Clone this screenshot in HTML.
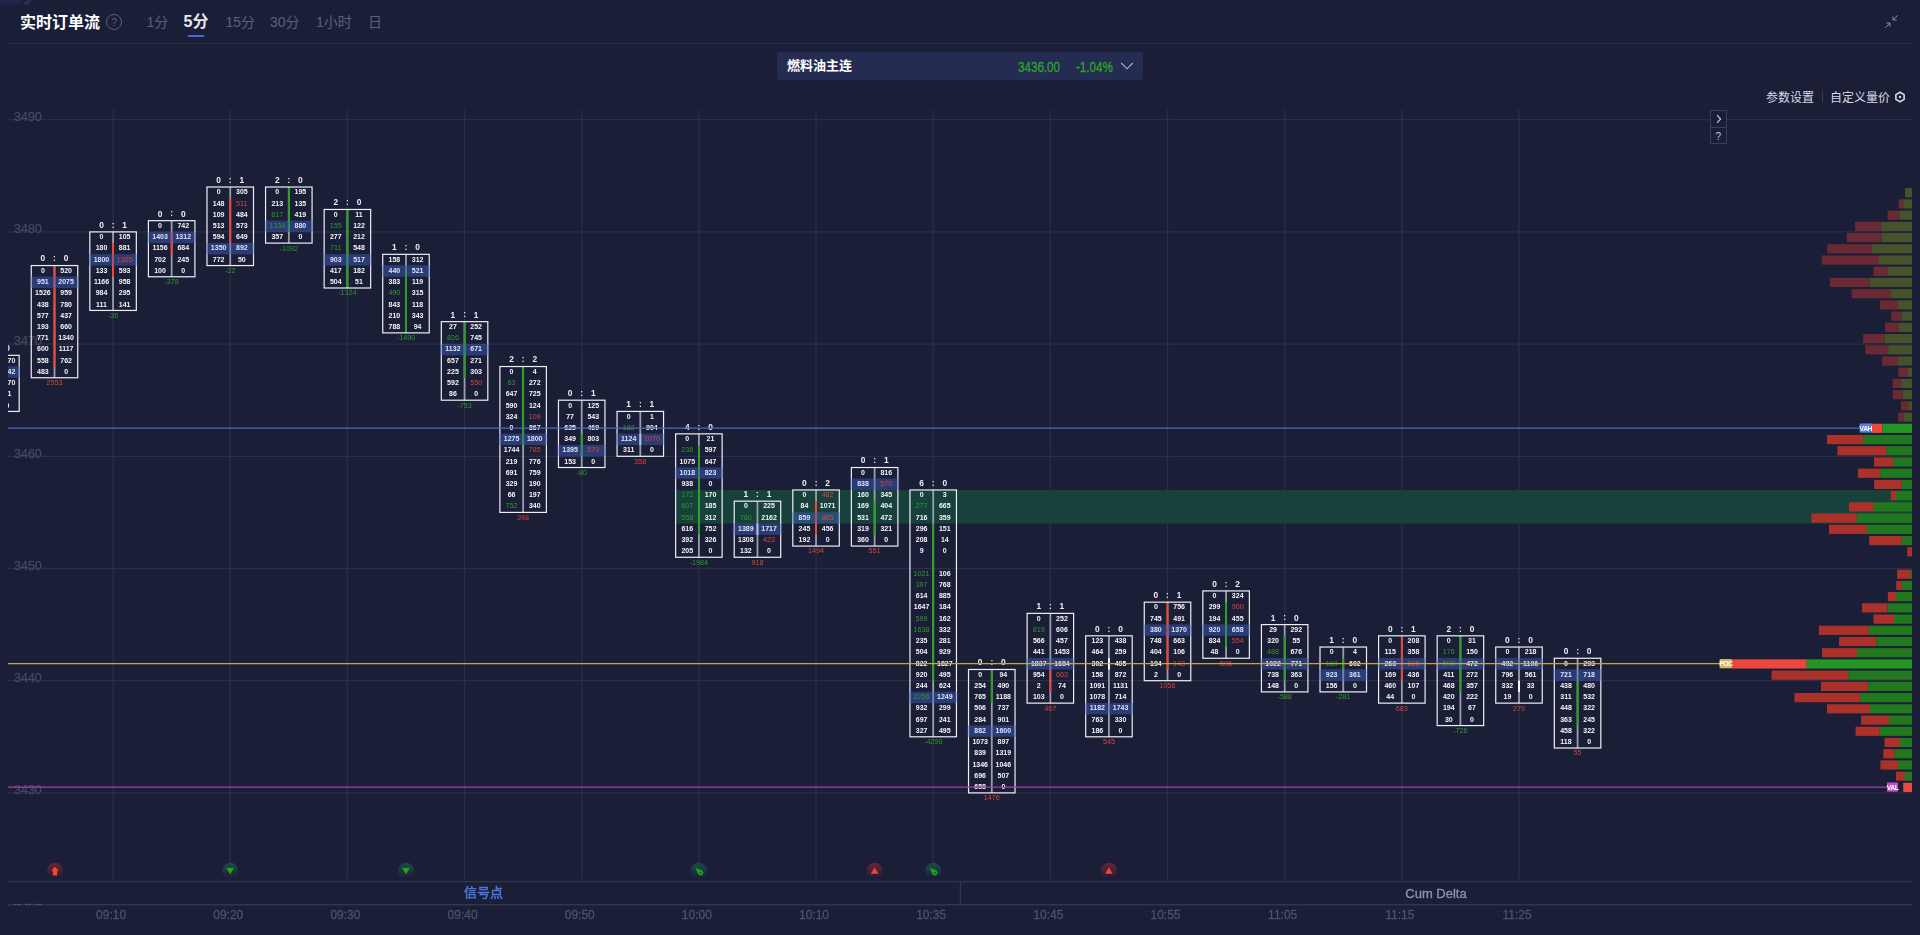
<!DOCTYPE html>
<html lang="zh-CN">
<head>
<meta charset="utf-8">
<title>实时订单流</title>
<style>
html,body{margin:0;padding:0;background:#1b1e37;}
body{width:1920px;height:935px;overflow:hidden;position:relative;font-family:"Liberation Sans","Noto Sans CJK SC",sans-serif;color:#fff;}
.abs{position:absolute;white-space:nowrap;}
.title{left:20px;top:11px;height:24px;line-height:24px;font-size:16px;font-weight:bold;color:#fff;}
.help{left:106.2px;top:14.3px;width:14px;height:14px;border:1px solid #5a5e72;border-radius:50%;color:#5a5e72;font-size:10.5px;line-height:14px;text-align:center;}
.tab{top:11px;height:22px;line-height:22px;font-size:14px;color:#5d6176;}
.tab.on{font-size:16px;font-weight:bold;color:#e6e7ee;top:11px;}
.uline{left:188px;top:35.2px;width:16px;height:2px;background:#3f6cd8;}
.hline{left:8px;top:42.6px;width:1904px;height:1.2px;background:#272c44;}
.sel{left:777px;top:52px;width:366px;height:28px;background:#242c52;border-radius:2px;}
.sel .nm{left:10px;top:0;line-height:27px;font-size:13px;font-weight:bold;color:#fff;}
.sel .px{top:1px;line-height:28px;font-size:14px;color:#2ea32a;transform-origin:0 50%;transform:scaleX(0.83);-webkit-text-stroke:0.3px #2ea32a;}
.set{top:88.8px;line-height:18px;font-size:12px;color:#d9dae2;}
.btn{left:1710px;width:14.8px;height:15.2px;border:1px solid #3a3f58;color:#c6c8d2;font-size:11px;line-height:16px;text-align:center;background:#1b1e37;}
svg{position:absolute;left:0;top:0;}
#chart{will-change:transform;}
svg text{font-family:"Liberation Sans",sans-serif;}
.t{font-size:7px;font-weight:bold;fill:#f4f5f8;text-anchor:middle;}
.t.h{fill:#dbe4ff;font-weight:bold;}
.t.c{font-weight:normal;font-size:7.2px;}
.hd{font-size:8.4px;font-weight:bold;fill:#eceef3;text-anchor:middle;}
.dl{font-size:7.2px;text-anchor:middle;}
.cg{fill:#2f9a2c;}
.cr{fill:#d8453c;}
.tag{font-size:6.8px;font-weight:bold;fill:#fff;text-anchor:middle;letter-spacing:-0.5px;}
</style>
</head>
<body>
<svg width="34" height="6" viewBox="0 0 34 6"><polygon points="0,0 23.8,0 19,4.7 0,4.7" fill="#20264a"/><polygon points="27.5,0 31.6,0 27.2,4.9 22,4.9" fill="#27305a"/></svg>
<div class="abs title">实时订单流</div>
<div class="abs help">?</div>
<div class="abs tab" style="left:146.5px">1分</div>
<div class="abs tab on" style="left:183.6px">5分</div>
<div class="abs tab" style="left:225.5px">15分</div>
<div class="abs tab" style="left:270px">30分</div>
<div class="abs tab" style="left:316px">1小时</div>
<div class="abs tab" style="left:368px">日</div>
<div class="abs uline"></div>
<div class="abs hline"></div>
<div class="abs sel">
  <div class="abs nm">燃料油主连</div>
  <div class="abs px" style="left:241px">3436.00</div>
  <div class="abs px" style="left:298.5px">-1.04%</div>
  <svg style="left:343px;top:8px" width="14" height="12" viewBox="0 0 14 12"><path d="M1.2 3 L7 8.8 L12.8 3" fill="none" stroke="#aeb2c4" stroke-width="1.1"/></svg>
</div>
<svg style="left:1884px;top:14px" width="16" height="16" viewBox="0 0 16 16"><g fill="none" stroke="#8a8d9c" stroke-width="1"><path d="M13.8 1.2 L9 6 M9 2.4 V6 H12.6"/><path d="M1.2 13.8 L6 9 M2.4 9 H6 V12.6"/></g></svg>
<div class="abs set" style="left:1766px">参数设置</div>
<div class="abs" style="left:1822px;top:91px;width:1px;height:11px;background:#3a3f58"></div>
<div class="abs set" style="left:1830px">自定义量价</div>
<svg style="left:1893px;top:90px" width="14" height="14" viewBox="0 0 14 14"><path d="M7 2.2 L11.1 4.6 V9.4 L7 11.8 L2.9 9.4 V4.6 Z" fill="none" stroke="#d9dae2" stroke-width="1.6"/><circle cx="7" cy="7" r="1.2" fill="#d9dae2"/></svg>
<svg id="chart" width="1920" height="935" viewBox="0 0 1920 935">
<defs>
<clipPath id="plot"><rect x="8" y="100" width="1904" height="800"/></clipPath>
<linearGradient id="gr" x1="0" y1="0" x2="0" y2="1"><stop offset="0" stop-color="#672533"/><stop offset="0.5" stop-color="#472136"/><stop offset="0.9" stop-color="#211e37"/><stop offset="1" stop-color="#1b1e37"/></linearGradient>
<linearGradient id="gg" x1="0" y1="0" x2="0" y2="1"><stop offset="0" stop-color="#1a4c42"/><stop offset="0.5" stop-color="#1b383d"/><stop offset="0.9" stop-color="#1b2238"/><stop offset="1" stop-color="#1b1e37"/></linearGradient>
</defs>
<g stroke="#2a2f47" stroke-width="1.3" fill="none">
<line x1="8" x2="1912" y1="119.7" y2="119.7"/>
<line x1="8" x2="1912" y1="231.9" y2="231.9"/>
<line x1="8" x2="1912" y1="344.1" y2="344.1"/>
<line x1="8" x2="1912" y1="456.3" y2="456.3"/>
<line x1="8" x2="1912" y1="568.5" y2="568.5"/>
<line x1="8" x2="1912" y1="680.7" y2="680.7"/>
<line x1="8" x2="1912" y1="792.9" y2="792.9"/>
<line x1="113.08" x2="113.08" y1="110" y2="879.6"/>
<line x1="230.24" x2="230.24" y1="110" y2="879.6"/>
<line x1="347.4" x2="347.4" y1="110" y2="879.6"/>
<line x1="464.56" x2="464.56" y1="110" y2="879.6"/>
<line x1="581.72" x2="581.72" y1="110" y2="879.6"/>
<line x1="698.88" x2="698.88" y1="110" y2="879.6"/>
<line x1="816.04" x2="816.04" y1="110" y2="879.6"/>
<line x1="933.2" x2="933.2" y1="110" y2="879.6"/>
<line x1="1050.36" x2="1050.36" y1="110" y2="879.6"/>
<line x1="1167.52" x2="1167.52" y1="110" y2="879.6"/>
<line x1="1284.68" x2="1284.68" y1="110" y2="879.6"/>
<line x1="1401.84" x2="1401.84" y1="110" y2="879.6"/>
<line x1="1519" x2="1519" y1="110" y2="879.6"/>
</g>
<g font-size="12.5" fill="#454a60" stroke="#454a60" stroke-width="0.25" font-family="'Liberation Sans', sans-serif">
<text x="14" y="121">3490</text>
<text x="14" y="233.2">3480</text>
<text x="14" y="345.4">3470</text>
<text x="14" y="457.6">3460</text>
<text x="14" y="569.8">3450</text>
<text x="14" y="682">3440</text>
<text x="14" y="794.2">3430</text>
</g>
<rect x="675.63" y="489.96" width="1236.37" height="33.66" fill="#17413a"/>
<g clip-path="url(#plot)">
<rect x="-4.98" y="355.32" width="1.8" height="56.1" fill="#9a9eab"/>
<rect x="-27.33" y="355.32" width="46.5" height="56.1" fill="none" stroke="#eeeff4" stroke-width="1.2"/>
<text x="-15.68" y="362.63" class="t">312</text>
<text x="7.52" y="362.63" class="t">1270</text>
<rect x="-28.13" y="366.34" width="48.1" height="11.42" fill="#4264c8" fill-opacity="0.42"/>
<text x="-15.68" y="373.85" class="t h">1105</text>
<text x="7.52" y="373.85" class="t h">1342</text>
<text x="-15.68" y="385.07" class="t">640</text>
<text x="7.52" y="385.07" class="t">1070</text>
<text x="-15.68" y="396.29" class="t">88</text>
<text x="7.52" y="396.29" class="t">31</text>
<text x="-15.68" y="407.51" class="t">15</text>
<text x="7.52" y="407.51" class="t">0</text>
<text x="-15.68" y="351.22" class="hd">1</text><text x="-4.08" y="351.02" class="hd">:</text><text x="7.52" y="351.22" class="hd">0</text>
<rect x="53.6" y="265.56" width="1.8" height="112.2" fill="#9a9eab"/>
<rect x="53.55" y="265.56" width="1.9" height="100.98" fill="#f4452f"/>
<rect x="31.25" y="265.56" width="46.5" height="112.2" fill="none" stroke="#eeeff4" stroke-width="1.2"/>
<text x="42.9" y="272.87" class="t">0</text>
<text x="66.1" y="272.87" class="t">520</text>
<rect x="30.45" y="276.58" width="48.1" height="11.42" fill="#4264c8" fill-opacity="0.42"/>
<text x="42.9" y="284.09" class="t h">951</text>
<text x="66.1" y="284.09" class="t h">2075</text>
<text x="42.9" y="295.31" class="t">1526</text>
<text x="66.1" y="295.31" class="t">959</text>
<text x="42.9" y="306.53" class="t">438</text>
<text x="66.1" y="306.53" class="t">780</text>
<text x="42.9" y="317.75" class="t">577</text>
<text x="66.1" y="317.75" class="t">437</text>
<text x="42.9" y="328.97" class="t">193</text>
<text x="66.1" y="328.97" class="t">660</text>
<text x="42.9" y="340.19" class="t">771</text>
<text x="66.1" y="340.19" class="t">1340</text>
<text x="42.9" y="351.41" class="t">600</text>
<text x="66.1" y="351.41" class="t">1117</text>
<text x="42.9" y="362.63" class="t">558</text>
<text x="66.1" y="362.63" class="t">762</text>
<text x="42.9" y="373.85" class="t">483</text>
<text x="66.1" y="373.85" class="t">0</text>
<text x="42.9" y="261.46" class="hd">0</text><text x="54.5" y="261.26" class="hd">:</text><text x="66.1" y="261.46" class="hd">0</text>
<text x="54.5" y="385.16" class="dl cr">2553</text>
<rect x="112.18" y="231.9" width="1.8" height="78.54" fill="#9a9eab"/>
<rect x="112.13" y="243.12" width="1.9" height="33.66" fill="#f4452f"/>
<rect x="89.83" y="231.9" width="46.5" height="78.54" fill="none" stroke="#eeeff4" stroke-width="1.2"/>
<text x="101.48" y="239.21" class="t">0</text>
<text x="124.68" y="239.21" class="t">105</text>
<text x="101.48" y="250.43" class="t">180</text>
<text x="124.68" y="250.43" class="t">881</text>
<rect x="89.03" y="254.14" width="48.1" height="11.42" fill="#4264c8" fill-opacity="0.42"/>
<text x="101.48" y="261.65" class="t h">1800</text>
<text x="124.68" y="261.65" class="t c cr">1365</text>
<text x="101.48" y="272.87" class="t">133</text>
<text x="124.68" y="272.87" class="t">593</text>
<text x="101.48" y="284.09" class="t">1166</text>
<text x="124.68" y="284.09" class="t">958</text>
<text x="101.48" y="295.31" class="t">984</text>
<text x="124.68" y="295.31" class="t">295</text>
<text x="101.48" y="306.53" class="t">111</text>
<text x="124.68" y="306.53" class="t">141</text>
<text x="101.48" y="227.8" class="hd">0</text><text x="113.08" y="227.6" class="hd">:</text><text x="124.68" y="227.8" class="hd">1</text>
<text x="113.08" y="317.84" class="dl cg">-36</text>
<rect x="170.76" y="220.68" width="1.8" height="56.1" fill="#9a9eab"/>
<rect x="170.71" y="231.9" width="1.9" height="22.44" fill="#f4452f"/>
<rect x="148.41" y="220.68" width="46.5" height="56.1" fill="none" stroke="#eeeff4" stroke-width="1.2"/>
<text x="160.06" y="227.99" class="t">0</text>
<text x="183.26" y="227.99" class="t">742</text>
<rect x="147.61" y="231.7" width="48.1" height="11.42" fill="#4264c8" fill-opacity="0.42"/>
<text x="160.06" y="239.21" class="t h">1403</text>
<text x="183.26" y="239.21" class="t h">1312</text>
<text x="160.06" y="250.43" class="t">1156</text>
<text x="183.26" y="250.43" class="t">684</text>
<text x="160.06" y="261.65" class="t">702</text>
<text x="183.26" y="261.65" class="t">245</text>
<text x="160.06" y="272.87" class="t">100</text>
<text x="183.26" y="272.87" class="t">0</text>
<text x="160.06" y="216.58" class="hd">0</text><text x="171.66" y="216.38" class="hd">:</text><text x="183.26" y="216.58" class="hd">0</text>
<text x="171.66" y="284.18" class="dl cg">-378</text>
<rect x="229.34" y="187.02" width="1.8" height="78.54" fill="#9a9eab"/>
<rect x="229.29" y="198.24" width="1.9" height="44.88" fill="#f4452f"/>
<rect x="206.99" y="187.02" width="46.5" height="78.54" fill="none" stroke="#eeeff4" stroke-width="1.2"/>
<text x="218.64" y="194.33" class="t">0</text>
<text x="241.84" y="194.33" class="t">305</text>
<text x="218.64" y="205.55" class="t">148</text>
<text x="241.84" y="205.55" class="t c cr">511</text>
<text x="218.64" y="216.77" class="t">109</text>
<text x="241.84" y="216.77" class="t">484</text>
<text x="218.64" y="227.99" class="t">513</text>
<text x="241.84" y="227.99" class="t">573</text>
<text x="218.64" y="239.21" class="t">594</text>
<text x="241.84" y="239.21" class="t">649</text>
<rect x="206.19" y="242.92" width="48.1" height="11.42" fill="#4264c8" fill-opacity="0.42"/>
<text x="218.64" y="250.43" class="t h">1350</text>
<text x="241.84" y="250.43" class="t h">892</text>
<text x="218.64" y="261.65" class="t">772</text>
<text x="241.84" y="261.65" class="t">50</text>
<text x="218.64" y="182.92" class="hd">0</text><text x="230.24" y="182.72" class="hd">:</text><text x="241.84" y="182.92" class="hd">1</text>
<text x="230.24" y="272.96" class="dl cg">-22</text>
<rect x="287.92" y="187.02" width="1.8" height="56.1" fill="#9a9eab"/>
<rect x="287.87" y="187.02" width="1.9" height="44.88" fill="#27a31f"/>
<rect x="265.57" y="187.02" width="46.5" height="56.1" fill="none" stroke="#eeeff4" stroke-width="1.2"/>
<text x="277.22" y="194.33" class="t">0</text>
<text x="300.42" y="194.33" class="t">195</text>
<text x="277.22" y="205.55" class="t">213</text>
<text x="300.42" y="205.55" class="t">135</text>
<text x="277.22" y="216.77" class="t c cg">817</text>
<text x="300.42" y="216.77" class="t">419</text>
<rect x="264.77" y="220.48" width="48.1" height="11.42" fill="#4264c8" fill-opacity="0.42"/>
<text x="277.22" y="227.99" class="t c cg">1334</text>
<text x="300.42" y="227.99" class="t h">880</text>
<text x="277.22" y="239.21" class="t">357</text>
<text x="300.42" y="239.21" class="t">0</text>
<text x="277.22" y="182.92" class="hd">2</text><text x="288.82" y="182.72" class="hd">:</text><text x="300.42" y="182.92" class="hd">0</text>
<text x="288.82" y="250.52" class="dl cg">-1092</text>
<rect x="346.5" y="209.46" width="1.8" height="78.54" fill="#9a9eab"/>
<rect x="346.45" y="209.46" width="1.9" height="78.54" fill="#27a31f"/>
<rect x="324.15" y="209.46" width="46.5" height="78.54" fill="none" stroke="#eeeff4" stroke-width="1.2"/>
<text x="335.8" y="216.77" class="t">0</text>
<text x="359" y="216.77" class="t">11</text>
<text x="335.8" y="227.99" class="t c cg">155</text>
<text x="359" y="227.99" class="t">122</text>
<text x="335.8" y="239.21" class="t">277</text>
<text x="359" y="239.21" class="t">212</text>
<text x="335.8" y="250.43" class="t c cg">711</text>
<text x="359" y="250.43" class="t">548</text>
<rect x="323.35" y="254.14" width="48.1" height="11.42" fill="#4264c8" fill-opacity="0.42"/>
<text x="335.8" y="261.65" class="t h">903</text>
<text x="359" y="261.65" class="t h">517</text>
<text x="335.8" y="272.87" class="t">417</text>
<text x="359" y="272.87" class="t">182</text>
<text x="335.8" y="284.09" class="t">504</text>
<text x="359" y="284.09" class="t">51</text>
<text x="335.8" y="205.36" class="hd">2</text><text x="347.4" y="205.16" class="hd">:</text><text x="359" y="205.36" class="hd">0</text>
<text x="347.4" y="295.4" class="dl cg">-1324</text>
<rect x="405.08" y="254.34" width="1.8" height="78.54" fill="#9a9eab"/>
<rect x="405.03" y="265.56" width="1.9" height="67.32" fill="#27a31f"/>
<rect x="382.73" y="254.34" width="46.5" height="78.54" fill="none" stroke="#eeeff4" stroke-width="1.2"/>
<text x="394.38" y="261.65" class="t">158</text>
<text x="417.58" y="261.65" class="t">312</text>
<rect x="381.93" y="265.36" width="48.1" height="11.42" fill="#4264c8" fill-opacity="0.42"/>
<text x="394.38" y="272.87" class="t h">440</text>
<text x="417.58" y="272.87" class="t h">521</text>
<text x="394.38" y="284.09" class="t">383</text>
<text x="417.58" y="284.09" class="t">119</text>
<text x="394.38" y="295.31" class="t c cg">490</text>
<text x="417.58" y="295.31" class="t">315</text>
<text x="394.38" y="306.53" class="t">843</text>
<text x="417.58" y="306.53" class="t">118</text>
<text x="394.38" y="317.75" class="t">210</text>
<text x="417.58" y="317.75" class="t">343</text>
<text x="394.38" y="328.97" class="t">788</text>
<text x="417.58" y="328.97" class="t">94</text>
<text x="394.38" y="250.24" class="hd">1</text><text x="405.98" y="250.04" class="hd">:</text><text x="417.58" y="250.24" class="hd">0</text>
<text x="405.98" y="340.28" class="dl cg">-1490</text>
<rect x="463.66" y="321.66" width="1.8" height="78.54" fill="#9a9eab"/>
<rect x="463.61" y="321.66" width="1.9" height="56.1" fill="#27a31f"/>
<rect x="441.31" y="321.66" width="46.5" height="78.54" fill="none" stroke="#eeeff4" stroke-width="1.2"/>
<text x="452.96" y="328.97" class="t">27</text>
<text x="476.16" y="328.97" class="t">252</text>
<text x="452.96" y="340.19" class="t c cg">826</text>
<text x="476.16" y="340.19" class="t">745</text>
<rect x="440.51" y="343.9" width="48.1" height="11.42" fill="#4264c8" fill-opacity="0.42"/>
<text x="452.96" y="351.41" class="t h">1132</text>
<text x="476.16" y="351.41" class="t h">671</text>
<text x="452.96" y="362.63" class="t">657</text>
<text x="476.16" y="362.63" class="t">271</text>
<text x="452.96" y="373.85" class="t">225</text>
<text x="476.16" y="373.85" class="t">303</text>
<text x="452.96" y="385.07" class="t">592</text>
<text x="476.16" y="385.07" class="t c cr">550</text>
<text x="452.96" y="396.29" class="t">86</text>
<text x="476.16" y="396.29" class="t">0</text>
<text x="452.96" y="317.56" class="hd">1</text><text x="464.56" y="317.36" class="hd">:</text><text x="476.16" y="317.56" class="hd">1</text>
<text x="464.56" y="407.6" class="dl cg">-753</text>
<rect x="522.24" y="366.54" width="1.8" height="145.86" fill="#9a9eab"/>
<rect x="522.19" y="366.54" width="1.9" height="78.54" fill="#27a31f"/>
<rect x="499.89" y="366.54" width="46.5" height="145.86" fill="none" stroke="#eeeff4" stroke-width="1.2"/>
<text x="511.54" y="373.85" class="t">0</text>
<text x="534.74" y="373.85" class="t">4</text>
<text x="511.54" y="385.07" class="t c cg">63</text>
<text x="534.74" y="385.07" class="t">272</text>
<text x="511.54" y="396.29" class="t">647</text>
<text x="534.74" y="396.29" class="t">725</text>
<text x="511.54" y="407.51" class="t">590</text>
<text x="534.74" y="407.51" class="t">124</text>
<text x="511.54" y="418.73" class="t">324</text>
<text x="534.74" y="418.73" class="t c cr">109</text>
<text x="511.54" y="429.95" class="t">0</text>
<text x="534.74" y="429.95" class="t">867</text>
<rect x="499.09" y="433.66" width="48.1" height="11.42" fill="#4264c8" fill-opacity="0.42"/>
<text x="511.54" y="441.17" class="t h">1275</text>
<text x="534.74" y="441.17" class="t h">1800</text>
<text x="511.54" y="452.39" class="t">1744</text>
<text x="534.74" y="452.39" class="t c cr">785</text>
<text x="511.54" y="463.61" class="t">219</text>
<text x="534.74" y="463.61" class="t">776</text>
<text x="511.54" y="474.83" class="t">691</text>
<text x="534.74" y="474.83" class="t">759</text>
<text x="511.54" y="486.05" class="t">329</text>
<text x="534.74" y="486.05" class="t">190</text>
<text x="511.54" y="497.27" class="t">66</text>
<text x="534.74" y="497.27" class="t">197</text>
<text x="511.54" y="508.49" class="t c cg">752</text>
<text x="534.74" y="508.49" class="t">340</text>
<text x="511.54" y="362.44" class="hd">2</text><text x="523.14" y="362.24" class="hd">:</text><text x="534.74" y="362.44" class="hd">2</text>
<text x="523.14" y="519.8" class="dl cr">248</text>
<rect x="580.82" y="400.2" width="1.8" height="67.32" fill="#9a9eab"/>
<rect x="580.77" y="433.86" width="1.9" height="22.44" fill="#27a31f"/>
<rect x="558.47" y="400.2" width="46.5" height="67.32" fill="none" stroke="#eeeff4" stroke-width="1.2"/>
<text x="570.12" y="407.51" class="t">0</text>
<text x="593.32" y="407.51" class="t">125</text>
<text x="570.12" y="418.73" class="t">77</text>
<text x="593.32" y="418.73" class="t">543</text>
<text x="570.12" y="429.95" class="t">625</text>
<text x="593.32" y="429.95" class="t">469</text>
<text x="570.12" y="441.17" class="t">349</text>
<text x="593.32" y="441.17" class="t">803</text>
<rect x="557.67" y="444.88" width="48.1" height="11.42" fill="#4264c8" fill-opacity="0.42"/>
<text x="570.12" y="452.39" class="t h">1395</text>
<text x="593.32" y="452.39" class="t c cr">579</text>
<text x="570.12" y="463.61" class="t">153</text>
<text x="593.32" y="463.61" class="t">0</text>
<text x="570.12" y="396.1" class="hd">0</text><text x="581.72" y="395.9" class="hd">:</text><text x="593.32" y="396.1" class="hd">1</text>
<text x="581.72" y="474.92" class="dl cg">-80</text>
<rect x="639.4" y="411.42" width="1.8" height="44.88" fill="#9a9eab"/>
<rect x="639.35" y="433.86" width="1.9" height="11.22" fill="#ffffff"/>
<rect x="617.05" y="411.42" width="46.5" height="44.88" fill="none" stroke="#eeeff4" stroke-width="1.2"/>
<text x="628.7" y="418.73" class="t">0</text>
<text x="651.9" y="418.73" class="t">1</text>
<text x="628.7" y="429.95" class="t c cg">182</text>
<text x="651.9" y="429.95" class="t">904</text>
<rect x="616.25" y="433.66" width="48.1" height="11.42" fill="#4264c8" fill-opacity="0.42"/>
<text x="628.7" y="441.17" class="t h">1124</text>
<text x="651.9" y="441.17" class="t c cr">1070</text>
<text x="628.7" y="452.39" class="t">311</text>
<text x="651.9" y="452.39" class="t">0</text>
<text x="628.7" y="407.32" class="hd">1</text><text x="640.3" y="407.12" class="hd">:</text><text x="651.9" y="407.32" class="hd">1</text>
<text x="640.3" y="463.7" class="dl cr">358</text>
<rect x="697.98" y="433.86" width="1.8" height="123.42" fill="#9a9eab"/>
<rect x="697.93" y="445.08" width="1.9" height="89.76" fill="#27a31f"/>
<rect x="675.63" y="433.86" width="46.5" height="123.42" fill="none" stroke="#eeeff4" stroke-width="1.2"/>
<text x="687.28" y="441.17" class="t">0</text>
<text x="710.48" y="441.17" class="t">21</text>
<text x="687.28" y="452.39" class="t c cg">236</text>
<text x="710.48" y="452.39" class="t">597</text>
<text x="687.28" y="463.61" class="t">1075</text>
<text x="710.48" y="463.61" class="t">647</text>
<rect x="674.83" y="467.32" width="48.1" height="11.42" fill="#4264c8" fill-opacity="0.42"/>
<text x="687.28" y="474.83" class="t h">1018</text>
<text x="710.48" y="474.83" class="t h">823</text>
<text x="687.28" y="486.05" class="t">938</text>
<text x="710.48" y="486.05" class="t">0</text>
<text x="687.28" y="497.27" class="t c cg">172</text>
<text x="710.48" y="497.27" class="t">170</text>
<text x="687.28" y="508.49" class="t c cg">607</text>
<text x="710.48" y="508.49" class="t">185</text>
<text x="687.28" y="519.71" class="t c cg">558</text>
<text x="710.48" y="519.71" class="t">312</text>
<text x="687.28" y="530.93" class="t">616</text>
<text x="710.48" y="530.93" class="t">752</text>
<text x="687.28" y="542.15" class="t">392</text>
<text x="710.48" y="542.15" class="t">326</text>
<text x="687.28" y="553.37" class="t">205</text>
<text x="710.48" y="553.37" class="t">0</text>
<text x="687.28" y="429.76" class="hd">4</text><text x="698.88" y="429.56" class="hd">:</text><text x="710.48" y="429.76" class="hd">0</text>
<text x="698.88" y="564.68" class="dl cg">-1984</text>
<rect x="756.56" y="501.18" width="1.8" height="56.1" fill="#9a9eab"/>
<rect x="756.51" y="523.62" width="1.9" height="11.22" fill="#ffffff"/>
<rect x="734.21" y="501.18" width="46.5" height="56.1" fill="none" stroke="#eeeff4" stroke-width="1.2"/>
<text x="745.86" y="508.49" class="t">0</text>
<text x="769.06" y="508.49" class="t">225</text>
<text x="745.86" y="519.71" class="t c cg">780</text>
<text x="769.06" y="519.71" class="t">2162</text>
<rect x="733.41" y="523.42" width="48.1" height="11.42" fill="#4264c8" fill-opacity="0.42"/>
<text x="745.86" y="530.93" class="t h">1389</text>
<text x="769.06" y="530.93" class="t h">1717</text>
<text x="745.86" y="542.15" class="t">1308</text>
<text x="769.06" y="542.15" class="t c cr">423</text>
<text x="745.86" y="553.37" class="t">132</text>
<text x="769.06" y="553.37" class="t">0</text>
<text x="745.86" y="497.08" class="hd">1</text><text x="757.46" y="496.88" class="hd">:</text><text x="769.06" y="497.08" class="hd">1</text>
<text x="757.46" y="564.68" class="dl cr">918</text>
<rect x="815.14" y="489.96" width="1.8" height="56.1" fill="#9a9eab"/>
<rect x="815.09" y="501.18" width="1.9" height="33.66" fill="#f4452f"/>
<rect x="792.79" y="489.96" width="46.5" height="56.1" fill="none" stroke="#eeeff4" stroke-width="1.2"/>
<text x="804.44" y="497.27" class="t">0</text>
<text x="827.64" y="497.27" class="t c cr">482</text>
<text x="804.44" y="508.49" class="t">84</text>
<text x="827.64" y="508.49" class="t">1071</text>
<rect x="791.99" y="512.2" width="48.1" height="11.42" fill="#4264c8" fill-opacity="0.42"/>
<text x="804.44" y="519.71" class="t h">859</text>
<text x="827.64" y="519.71" class="t c cr">865</text>
<text x="804.44" y="530.93" class="t">245</text>
<text x="827.64" y="530.93" class="t">456</text>
<text x="804.44" y="542.15" class="t">192</text>
<text x="827.64" y="542.15" class="t">0</text>
<text x="804.44" y="485.86" class="hd">0</text><text x="816.04" y="485.66" class="hd">:</text><text x="827.64" y="485.86" class="hd">2</text>
<text x="816.04" y="553.46" class="dl cr">1494</text>
<rect x="873.72" y="467.52" width="1.8" height="78.54" fill="#9a9eab"/>
<rect x="873.67" y="501.18" width="1.9" height="33.66" fill="#27a31f"/>
<rect x="851.37" y="467.52" width="46.5" height="78.54" fill="none" stroke="#eeeff4" stroke-width="1.2"/>
<text x="863.02" y="474.83" class="t">0</text>
<text x="886.22" y="474.83" class="t">816</text>
<rect x="850.57" y="478.54" width="48.1" height="11.42" fill="#4264c8" fill-opacity="0.42"/>
<text x="863.02" y="486.05" class="t h">838</text>
<text x="886.22" y="486.05" class="t c cr">570</text>
<text x="863.02" y="497.27" class="t">160</text>
<text x="886.22" y="497.27" class="t">345</text>
<text x="863.02" y="508.49" class="t">169</text>
<text x="886.22" y="508.49" class="t">404</text>
<text x="863.02" y="519.71" class="t">531</text>
<text x="886.22" y="519.71" class="t">472</text>
<text x="863.02" y="530.93" class="t">319</text>
<text x="886.22" y="530.93" class="t">321</text>
<text x="863.02" y="542.15" class="t">360</text>
<text x="886.22" y="542.15" class="t">0</text>
<text x="863.02" y="463.42" class="hd">0</text><text x="874.62" y="463.22" class="hd">:</text><text x="886.22" y="463.42" class="hd">1</text>
<text x="874.62" y="553.46" class="dl cr">551</text>
<rect x="932.3" y="489.96" width="1.8" height="246.84" fill="#9a9eab"/>
<rect x="932.25" y="523.62" width="1.9" height="157.08" fill="#27a31f"/>
<rect x="909.95" y="489.96" width="46.5" height="246.84" fill="none" stroke="#eeeff4" stroke-width="1.2"/>
<text x="921.6" y="497.27" class="t">0</text>
<text x="944.8" y="497.27" class="t">3</text>
<text x="921.6" y="508.49" class="t c cg">277</text>
<text x="944.8" y="508.49" class="t">665</text>
<text x="921.6" y="519.71" class="t">716</text>
<text x="944.8" y="519.71" class="t">359</text>
<text x="921.6" y="530.93" class="t">296</text>
<text x="944.8" y="530.93" class="t">151</text>
<text x="921.6" y="542.15" class="t">208</text>
<text x="944.8" y="542.15" class="t">14</text>
<text x="921.6" y="553.37" class="t">9</text>
<text x="944.8" y="553.37" class="t">0</text>
<text x="921.6" y="575.81" class="t c cg">1021</text>
<text x="944.8" y="575.81" class="t">106</text>
<text x="921.6" y="587.03" class="t c cg">397</text>
<text x="944.8" y="587.03" class="t">768</text>
<text x="921.6" y="598.25" class="t">614</text>
<text x="944.8" y="598.25" class="t">885</text>
<text x="921.6" y="609.47" class="t">1647</text>
<text x="944.8" y="609.47" class="t">184</text>
<text x="921.6" y="620.69" class="t c cg">599</text>
<text x="944.8" y="620.69" class="t">162</text>
<text x="921.6" y="631.91" class="t c cg">1638</text>
<text x="944.8" y="631.91" class="t">332</text>
<text x="921.6" y="643.13" class="t">235</text>
<text x="944.8" y="643.13" class="t">281</text>
<text x="921.6" y="654.35" class="t">504</text>
<text x="944.8" y="654.35" class="t">929</text>
<text x="921.6" y="665.57" class="t">822</text>
<text x="944.8" y="665.57" class="t">1827</text>
<text x="921.6" y="676.79" class="t">920</text>
<text x="944.8" y="676.79" class="t">495</text>
<text x="921.6" y="688.01" class="t">244</text>
<text x="944.8" y="688.01" class="t">624</text>
<rect x="909.15" y="691.72" width="48.1" height="11.42" fill="#4264c8" fill-opacity="0.42"/>
<text x="921.6" y="699.23" class="t c cg">2256</text>
<text x="944.8" y="699.23" class="t h">1249</text>
<text x="921.6" y="710.45" class="t">932</text>
<text x="944.8" y="710.45" class="t">299</text>
<text x="921.6" y="721.67" class="t">697</text>
<text x="944.8" y="721.67" class="t">241</text>
<text x="921.6" y="732.89" class="t">327</text>
<text x="944.8" y="732.89" class="t">495</text>
<text x="921.6" y="485.86" class="hd">6</text><text x="933.2" y="485.66" class="hd">:</text><text x="944.8" y="485.86" class="hd">0</text>
<text x="933.2" y="744.2" class="dl cg">-4290</text>
<rect x="990.88" y="669.48" width="1.8" height="123.42" fill="#9a9eab"/>
<rect x="990.83" y="669.48" width="1.9" height="33.66" fill="#27a31f"/>
<rect x="968.53" y="669.48" width="46.5" height="123.42" fill="none" stroke="#eeeff4" stroke-width="1.2"/>
<text x="980.18" y="676.79" class="t">0</text>
<text x="1003.38" y="676.79" class="t">94</text>
<text x="980.18" y="688.01" class="t">254</text>
<text x="1003.38" y="688.01" class="t">490</text>
<text x="980.18" y="699.23" class="t">765</text>
<text x="1003.38" y="699.23" class="t">1188</text>
<text x="980.18" y="710.45" class="t">506</text>
<text x="1003.38" y="710.45" class="t">737</text>
<text x="980.18" y="721.67" class="t">284</text>
<text x="1003.38" y="721.67" class="t">901</text>
<rect x="967.73" y="725.38" width="48.1" height="11.42" fill="#4264c8" fill-opacity="0.42"/>
<text x="980.18" y="732.89" class="t h">882</text>
<text x="1003.38" y="732.89" class="t h">1600</text>
<text x="980.18" y="744.11" class="t">1073</text>
<text x="1003.38" y="744.11" class="t">897</text>
<text x="980.18" y="755.33" class="t">839</text>
<text x="1003.38" y="755.33" class="t">1319</text>
<text x="980.18" y="766.55" class="t">1346</text>
<text x="1003.38" y="766.55" class="t">1046</text>
<text x="980.18" y="777.77" class="t">696</text>
<text x="1003.38" y="777.77" class="t">507</text>
<text x="980.18" y="788.99" class="t">658</text>
<text x="1003.38" y="788.99" class="t">0</text>
<text x="980.18" y="665.38" class="hd">0</text><text x="991.78" y="665.18" class="hd">:</text><text x="1003.38" y="665.38" class="hd">0</text>
<text x="991.78" y="800.3" class="dl cr">1476</text>
<rect x="1049.46" y="613.38" width="1.8" height="89.76" fill="#9a9eab"/>
<rect x="1049.41" y="669.48" width="1.9" height="22.44" fill="#f4452f"/>
<rect x="1027.11" y="613.38" width="46.5" height="89.76" fill="none" stroke="#eeeff4" stroke-width="1.2"/>
<text x="1038.76" y="620.69" class="t">0</text>
<text x="1061.96" y="620.69" class="t">252</text>
<text x="1038.76" y="631.91" class="t c cg">819</text>
<text x="1061.96" y="631.91" class="t">606</text>
<text x="1038.76" y="643.13" class="t">566</text>
<text x="1061.96" y="643.13" class="t">457</text>
<text x="1038.76" y="654.35" class="t">441</text>
<text x="1061.96" y="654.35" class="t">1453</text>
<rect x="1026.31" y="658.06" width="48.1" height="11.42" fill="#4264c8" fill-opacity="0.42"/>
<text x="1038.76" y="665.57" class="t h">1837</text>
<text x="1061.96" y="665.57" class="t h">1684</text>
<text x="1038.76" y="676.79" class="t">954</text>
<text x="1061.96" y="676.79" class="t c cr">663</text>
<text x="1038.76" y="688.01" class="t">2</text>
<text x="1061.96" y="688.01" class="t">74</text>
<text x="1038.76" y="699.23" class="t">103</text>
<text x="1061.96" y="699.23" class="t">0</text>
<text x="1038.76" y="609.28" class="hd">1</text><text x="1050.36" y="609.08" class="hd">:</text><text x="1061.96" y="609.28" class="hd">1</text>
<text x="1050.36" y="710.54" class="dl cr">467</text>
<rect x="1108.04" y="635.82" width="1.8" height="100.98" fill="#9a9eab"/>
<rect x="1107.99" y="658.26" width="1.9" height="11.22" fill="#ffffff"/>
<rect x="1085.69" y="635.82" width="46.5" height="100.98" fill="none" stroke="#eeeff4" stroke-width="1.2"/>
<text x="1097.34" y="643.13" class="t">123</text>
<text x="1120.54" y="643.13" class="t">438</text>
<text x="1097.34" y="654.35" class="t">464</text>
<text x="1120.54" y="654.35" class="t">259</text>
<text x="1097.34" y="665.57" class="t">302</text>
<text x="1120.54" y="665.57" class="t">405</text>
<text x="1097.34" y="676.79" class="t">158</text>
<text x="1120.54" y="676.79" class="t">872</text>
<text x="1097.34" y="688.01" class="t">1091</text>
<text x="1120.54" y="688.01" class="t">1131</text>
<text x="1097.34" y="699.23" class="t">1078</text>
<text x="1120.54" y="699.23" class="t">714</text>
<rect x="1084.89" y="702.94" width="48.1" height="11.42" fill="#4264c8" fill-opacity="0.42"/>
<text x="1097.34" y="710.45" class="t h">1182</text>
<text x="1120.54" y="710.45" class="t h">1743</text>
<text x="1097.34" y="721.67" class="t">763</text>
<text x="1120.54" y="721.67" class="t">330</text>
<text x="1097.34" y="732.89" class="t">186</text>
<text x="1120.54" y="732.89" class="t">0</text>
<text x="1097.34" y="631.72" class="hd">0</text><text x="1108.94" y="631.52" class="hd">:</text><text x="1120.54" y="631.72" class="hd">0</text>
<text x="1108.94" y="744.2" class="dl cr">545</text>
<rect x="1166.62" y="602.16" width="1.8" height="78.54" fill="#9a9eab"/>
<rect x="1166.57" y="602.16" width="1.9" height="67.32" fill="#f4452f"/>
<rect x="1144.27" y="602.16" width="46.5" height="78.54" fill="none" stroke="#eeeff4" stroke-width="1.2"/>
<text x="1155.92" y="609.47" class="t">0</text>
<text x="1179.12" y="609.47" class="t">756</text>
<text x="1155.92" y="620.69" class="t">745</text>
<text x="1179.12" y="620.69" class="t">491</text>
<rect x="1143.47" y="624.4" width="48.1" height="11.42" fill="#4264c8" fill-opacity="0.42"/>
<text x="1155.92" y="631.91" class="t h">380</text>
<text x="1179.12" y="631.91" class="t h">1370</text>
<text x="1155.92" y="643.13" class="t">748</text>
<text x="1179.12" y="643.13" class="t">663</text>
<text x="1155.92" y="654.35" class="t">404</text>
<text x="1179.12" y="654.35" class="t">106</text>
<text x="1155.92" y="665.57" class="t">194</text>
<text x="1179.12" y="665.57" class="t c cr">143</text>
<text x="1155.92" y="676.79" class="t">2</text>
<text x="1179.12" y="676.79" class="t">0</text>
<text x="1155.92" y="598.06" class="hd">0</text><text x="1167.52" y="597.86" class="hd">:</text><text x="1179.12" y="598.06" class="hd">1</text>
<text x="1167.52" y="688.1" class="dl cr">1056</text>
<rect x="1225.2" y="590.94" width="1.8" height="67.32" fill="#9a9eab"/>
<rect x="1225.15" y="602.16" width="1.9" height="44.88" fill="#27a31f"/>
<rect x="1202.85" y="590.94" width="46.5" height="67.32" fill="none" stroke="#eeeff4" stroke-width="1.2"/>
<text x="1214.5" y="598.25" class="t">0</text>
<text x="1237.7" y="598.25" class="t">324</text>
<text x="1214.5" y="609.47" class="t">299</text>
<text x="1237.7" y="609.47" class="t c cr">900</text>
<text x="1214.5" y="620.69" class="t">194</text>
<text x="1237.7" y="620.69" class="t">455</text>
<rect x="1202.05" y="624.4" width="48.1" height="11.42" fill="#4264c8" fill-opacity="0.42"/>
<text x="1214.5" y="631.91" class="t h">920</text>
<text x="1237.7" y="631.91" class="t h">658</text>
<text x="1214.5" y="643.13" class="t">834</text>
<text x="1237.7" y="643.13" class="t c cr">554</text>
<text x="1214.5" y="654.35" class="t">48</text>
<text x="1237.7" y="654.35" class="t">0</text>
<text x="1214.5" y="586.84" class="hd">0</text><text x="1226.1" y="586.64" class="hd">:</text><text x="1237.7" y="586.84" class="hd">2</text>
<text x="1226.1" y="665.66" class="dl cr">596</text>
<rect x="1283.78" y="624.6" width="1.8" height="67.32" fill="#9a9eab"/>
<rect x="1283.73" y="635.82" width="1.9" height="44.88" fill="#27a31f"/>
<rect x="1261.43" y="624.6" width="46.5" height="67.32" fill="none" stroke="#eeeff4" stroke-width="1.2"/>
<text x="1273.08" y="631.91" class="t">29</text>
<text x="1296.28" y="631.91" class="t">292</text>
<text x="1273.08" y="643.13" class="t">320</text>
<text x="1296.28" y="643.13" class="t">55</text>
<text x="1273.08" y="654.35" class="t c cg">488</text>
<text x="1296.28" y="654.35" class="t">676</text>
<rect x="1260.63" y="658.06" width="48.1" height="11.42" fill="#4264c8" fill-opacity="0.42"/>
<text x="1273.08" y="665.57" class="t h">1022</text>
<text x="1296.28" y="665.57" class="t h">771</text>
<text x="1273.08" y="676.79" class="t">738</text>
<text x="1296.28" y="676.79" class="t">363</text>
<text x="1273.08" y="688.01" class="t">148</text>
<text x="1296.28" y="688.01" class="t">0</text>
<text x="1273.08" y="620.5" class="hd">1</text><text x="1284.68" y="620.3" class="hd">:</text><text x="1296.28" y="620.5" class="hd">0</text>
<text x="1284.68" y="699.32" class="dl cg">-588</text>
<rect x="1342.36" y="647.04" width="1.8" height="44.88" fill="#9a9eab"/>
<rect x="1342.31" y="658.26" width="1.9" height="11.22" fill="#27a31f"/>
<rect x="1320.01" y="647.04" width="46.5" height="44.88" fill="none" stroke="#eeeff4" stroke-width="1.2"/>
<text x="1331.66" y="654.35" class="t">0</text>
<text x="1354.86" y="654.35" class="t">4</text>
<text x="1331.66" y="665.57" class="t c cg">169</text>
<text x="1354.86" y="665.57" class="t">602</text>
<rect x="1319.21" y="669.28" width="48.1" height="11.42" fill="#4264c8" fill-opacity="0.42"/>
<text x="1331.66" y="676.79" class="t h">923</text>
<text x="1354.86" y="676.79" class="t h">361</text>
<text x="1331.66" y="688.01" class="t">156</text>
<text x="1354.86" y="688.01" class="t">0</text>
<text x="1331.66" y="642.94" class="hd">1</text><text x="1343.26" y="642.74" class="hd">:</text><text x="1354.86" y="642.94" class="hd">0</text>
<text x="1343.26" y="699.32" class="dl cg">-281</text>
<rect x="1400.94" y="635.82" width="1.8" height="67.32" fill="#9a9eab"/>
<rect x="1400.89" y="635.82" width="1.9" height="44.88" fill="#f4452f"/>
<rect x="1378.59" y="635.82" width="46.5" height="67.32" fill="none" stroke="#eeeff4" stroke-width="1.2"/>
<text x="1390.24" y="643.13" class="t">0</text>
<text x="1413.44" y="643.13" class="t">208</text>
<text x="1390.24" y="654.35" class="t">115</text>
<text x="1413.44" y="654.35" class="t">358</text>
<rect x="1377.79" y="658.06" width="48.1" height="11.42" fill="#4264c8" fill-opacity="0.42"/>
<text x="1390.24" y="665.57" class="t h">263</text>
<text x="1413.44" y="665.57" class="t c cr">625</text>
<text x="1390.24" y="676.79" class="t">169</text>
<text x="1413.44" y="676.79" class="t">436</text>
<text x="1390.24" y="688.01" class="t">460</text>
<text x="1413.44" y="688.01" class="t">107</text>
<text x="1390.24" y="699.23" class="t">44</text>
<text x="1413.44" y="699.23" class="t">0</text>
<text x="1390.24" y="631.72" class="hd">0</text><text x="1401.84" y="631.52" class="hd">:</text><text x="1413.44" y="631.72" class="hd">1</text>
<text x="1401.84" y="710.54" class="dl cr">683</text>
<rect x="1459.52" y="635.82" width="1.8" height="89.76" fill="#9a9eab"/>
<rect x="1459.47" y="635.82" width="1.9" height="56.1" fill="#27a31f"/>
<rect x="1437.17" y="635.82" width="46.5" height="89.76" fill="none" stroke="#eeeff4" stroke-width="1.2"/>
<text x="1448.82" y="643.13" class="t">0</text>
<text x="1472.02" y="643.13" class="t">31</text>
<text x="1448.82" y="654.35" class="t c cg">176</text>
<text x="1472.02" y="654.35" class="t">150</text>
<rect x="1436.37" y="658.06" width="48.1" height="11.42" fill="#4264c8" fill-opacity="0.42"/>
<text x="1448.82" y="665.57" class="t c cg">598</text>
<text x="1472.02" y="665.57" class="t h">472</text>
<text x="1448.82" y="676.79" class="t">411</text>
<text x="1472.02" y="676.79" class="t">272</text>
<text x="1448.82" y="688.01" class="t">468</text>
<text x="1472.02" y="688.01" class="t">357</text>
<text x="1448.82" y="699.23" class="t">420</text>
<text x="1472.02" y="699.23" class="t">222</text>
<text x="1448.82" y="710.45" class="t">194</text>
<text x="1472.02" y="710.45" class="t">67</text>
<text x="1448.82" y="721.67" class="t">30</text>
<text x="1472.02" y="721.67" class="t">0</text>
<text x="1448.82" y="631.72" class="hd">2</text><text x="1460.42" y="631.52" class="hd">:</text><text x="1472.02" y="631.72" class="hd">0</text>
<text x="1460.42" y="732.98" class="dl cg">-726</text>
<rect x="1518.1" y="647.04" width="1.8" height="56.1" fill="#9a9eab"/>
<rect x="1518.05" y="680.7" width="1.9" height="11.22" fill="#ffffff"/>
<rect x="1495.75" y="647.04" width="46.5" height="56.1" fill="none" stroke="#eeeff4" stroke-width="1.2"/>
<text x="1507.4" y="654.35" class="t">0</text>
<text x="1530.6" y="654.35" class="t">218</text>
<rect x="1494.95" y="658.06" width="48.1" height="11.42" fill="#4264c8" fill-opacity="0.42"/>
<text x="1507.4" y="665.57" class="t h">492</text>
<text x="1530.6" y="665.57" class="t h">1106</text>
<text x="1507.4" y="676.79" class="t">796</text>
<text x="1530.6" y="676.79" class="t">561</text>
<text x="1507.4" y="688.01" class="t">332</text>
<text x="1530.6" y="688.01" class="t">33</text>
<text x="1507.4" y="699.23" class="t">19</text>
<text x="1530.6" y="699.23" class="t">0</text>
<text x="1507.4" y="642.94" class="hd">0</text><text x="1519" y="642.74" class="hd">:</text><text x="1530.6" y="642.94" class="hd">0</text>
<text x="1519" y="710.54" class="dl cr">279</text>
<rect x="1576.68" y="658.26" width="1.8" height="89.76" fill="#9a9eab"/>
<rect x="1576.63" y="680.7" width="1.9" height="44.88" fill="#27a31f"/>
<rect x="1554.33" y="658.26" width="46.5" height="89.76" fill="none" stroke="#eeeff4" stroke-width="1.2"/>
<text x="1565.98" y="665.57" class="t">0</text>
<text x="1589.18" y="665.57" class="t">293</text>
<rect x="1553.53" y="669.28" width="48.1" height="11.42" fill="#4264c8" fill-opacity="0.42"/>
<text x="1565.98" y="676.79" class="t h">721</text>
<text x="1589.18" y="676.79" class="t h">718</text>
<text x="1565.98" y="688.01" class="t">438</text>
<text x="1589.18" y="688.01" class="t">480</text>
<text x="1565.98" y="699.23" class="t">311</text>
<text x="1589.18" y="699.23" class="t">532</text>
<text x="1565.98" y="710.45" class="t">448</text>
<text x="1589.18" y="710.45" class="t">322</text>
<text x="1565.98" y="721.67" class="t">363</text>
<text x="1589.18" y="721.67" class="t">245</text>
<text x="1565.98" y="732.89" class="t">458</text>
<text x="1589.18" y="732.89" class="t">322</text>
<text x="1565.98" y="744.11" class="t">118</text>
<text x="1589.18" y="744.11" class="t">0</text>
<text x="1565.98" y="654.16" class="hd">0</text><text x="1577.58" y="653.96" class="hd">:</text><text x="1589.18" y="654.16" class="hd">0</text>
<text x="1577.58" y="755.42" class="dl cr">55</text>
</g>
<rect x="1905" y="188.12" width="7" height="9.2" fill="#46532a"/>
<rect x="1898.6" y="199.34" width="4.6" height="9.2" fill="#6a2a35"/>
<rect x="1903.2" y="199.34" width="8.8" height="9.2" fill="#46532a"/>
<rect x="1887.6" y="210.56" width="12.2" height="9.2" fill="#6a2a35"/>
<rect x="1899.8" y="210.56" width="12.2" height="9.2" fill="#46532a"/>
<rect x="1855" y="221.78" width="26.3" height="9.2" fill="#6a2a35"/>
<rect x="1881.3" y="221.78" width="30.7" height="9.2" fill="#46532a"/>
<rect x="1846.9" y="233" width="35" height="9.2" fill="#6a2a35"/>
<rect x="1881.9" y="233" width="30.1" height="9.2" fill="#46532a"/>
<rect x="1827.3" y="244.22" width="44.7" height="9.2" fill="#6a2a35"/>
<rect x="1872" y="244.22" width="40" height="9.2" fill="#46532a"/>
<rect x="1821.8" y="255.44" width="57.2" height="9.2" fill="#6a2a35"/>
<rect x="1879" y="255.44" width="33" height="9.2" fill="#46532a"/>
<rect x="1873.5" y="266.66" width="14.4" height="9.2" fill="#6a2a35"/>
<rect x="1887.9" y="266.66" width="24.1" height="9.2" fill="#46532a"/>
<rect x="1829.9" y="277.88" width="39.8" height="9.2" fill="#6a2a35"/>
<rect x="1869.7" y="277.88" width="42.3" height="9.2" fill="#46532a"/>
<rect x="1851.6" y="289.1" width="39.5" height="9.2" fill="#6a2a35"/>
<rect x="1891.1" y="289.1" width="20.9" height="9.2" fill="#46532a"/>
<rect x="1879.8" y="300.32" width="18.2" height="9.2" fill="#6a2a35"/>
<rect x="1898" y="300.32" width="14" height="9.2" fill="#46532a"/>
<rect x="1891.1" y="311.54" width="10.4" height="9.2" fill="#6a2a35"/>
<rect x="1901.5" y="311.54" width="10.5" height="9.2" fill="#46532a"/>
<rect x="1885" y="322.76" width="13.6" height="9.2" fill="#6a2a35"/>
<rect x="1898.6" y="322.76" width="13.4" height="9.2" fill="#46532a"/>
<rect x="1863.1" y="333.98" width="21.4" height="9.2" fill="#6a2a35"/>
<rect x="1884.5" y="333.98" width="27.5" height="9.2" fill="#46532a"/>
<rect x="1865.4" y="345.2" width="22.8" height="9.2" fill="#6a2a35"/>
<rect x="1888.2" y="345.2" width="23.8" height="9.2" fill="#46532a"/>
<rect x="1882.2" y="356.42" width="15.8" height="9.2" fill="#6a2a35"/>
<rect x="1898" y="356.42" width="14" height="9.2" fill="#46532a"/>
<rect x="1898.3" y="367.64" width="9.6" height="9.2" fill="#6a2a35"/>
<rect x="1907.9" y="367.64" width="4.1" height="9.2" fill="#46532a"/>
<rect x="1892.6" y="378.86" width="8.3" height="9.2" fill="#6a2a35"/>
<rect x="1900.9" y="378.86" width="11.1" height="9.2" fill="#46532a"/>
<rect x="1892.8" y="390.08" width="9.9" height="9.2" fill="#6a2a35"/>
<rect x="1902.7" y="390.08" width="9.3" height="9.2" fill="#46532a"/>
<rect x="1900.9" y="401.3" width="8.1" height="9.2" fill="#6a2a35"/>
<rect x="1909" y="401.3" width="3" height="9.2" fill="#46532a"/>
<rect x="1898" y="412.52" width="5.5" height="9.2" fill="#6a2a35"/>
<rect x="1903.5" y="412.52" width="8.5" height="9.2" fill="#46532a"/>
<rect x="1872" y="423.74" width="10.4" height="9.2" fill="#ec473c"/>
<rect x="1882.4" y="423.74" width="29.6" height="9.2" fill="#259523"/>
<rect x="1827" y="434.96" width="36.1" height="9.2" fill="#ab322b"/>
<rect x="1863.1" y="434.96" width="48.9" height="9.2" fill="#22781f"/>
<rect x="1837.4" y="446.18" width="48.8" height="9.2" fill="#ab322b"/>
<rect x="1886.2" y="446.18" width="25.8" height="9.2" fill="#22781f"/>
<rect x="1874.1" y="457.4" width="19" height="9.2" fill="#ab322b"/>
<rect x="1893.1" y="457.4" width="18.9" height="9.2" fill="#22781f"/>
<rect x="1857.9" y="468.62" width="22.2" height="9.2" fill="#ab322b"/>
<rect x="1880.1" y="468.62" width="31.9" height="9.2" fill="#22781f"/>
<rect x="1874.1" y="479.84" width="27.7" height="9.2" fill="#ab322b"/>
<rect x="1901.8" y="479.84" width="10.2" height="9.2" fill="#22781f"/>
<rect x="1890.8" y="491.06" width="5.2" height="9.2" fill="#ab322b"/>
<rect x="1896" y="491.06" width="16" height="9.2" fill="#22781f"/>
<rect x="1849" y="502.28" width="24.8" height="9.2" fill="#ab322b"/>
<rect x="1873.8" y="502.28" width="38.2" height="9.2" fill="#22781f"/>
<rect x="1811.4" y="513.5" width="45.4" height="9.2" fill="#ab322b"/>
<rect x="1856.8" y="513.5" width="55.2" height="9.2" fill="#22781f"/>
<rect x="1829" y="524.72" width="37.9" height="9.2" fill="#ab322b"/>
<rect x="1866.9" y="524.72" width="45.1" height="9.2" fill="#22781f"/>
<rect x="1869.2" y="535.94" width="32.6" height="9.2" fill="#ab322b"/>
<rect x="1901.8" y="535.94" width="10.2" height="9.2" fill="#22781f"/>
<rect x="1907.3" y="547.16" width="4.7" height="9.2" fill="#ab322b"/>
<rect x="1897.2" y="569.6" width="13.5" height="9.2" fill="#ab322b"/>
<rect x="1910.7" y="569.6" width="1.3" height="9.2" fill="#22781f"/>
<rect x="1896.3" y="580.82" width="5.5" height="9.2" fill="#ab322b"/>
<rect x="1901.8" y="580.82" width="10.2" height="9.2" fill="#22781f"/>
<rect x="1887.9" y="592.04" width="8.1" height="9.2" fill="#ab322b"/>
<rect x="1896" y="592.04" width="16" height="9.2" fill="#22781f"/>
<rect x="1862" y="603.26" width="25.6" height="9.2" fill="#ab322b"/>
<rect x="1887.6" y="603.26" width="24.4" height="9.2" fill="#22781f"/>
<rect x="1873.5" y="614.48" width="20.5" height="9.2" fill="#ab322b"/>
<rect x="1894" y="614.48" width="18" height="9.2" fill="#22781f"/>
<rect x="1818.9" y="625.7" width="50" height="9.2" fill="#ab322b"/>
<rect x="1868.9" y="625.7" width="43.1" height="9.2" fill="#22781f"/>
<rect x="1839.1" y="636.92" width="37.3" height="9.2" fill="#ab322b"/>
<rect x="1876.4" y="636.92" width="35.6" height="9.2" fill="#22781f"/>
<rect x="1822.1" y="648.14" width="34.9" height="9.2" fill="#ab322b"/>
<rect x="1857" y="648.14" width="55" height="9.2" fill="#22781f"/>
<rect x="1731.8" y="659.36" width="75" height="9.2" fill="#ec473c"/>
<rect x="1806.8" y="659.36" width="105.2" height="9.2" fill="#259523"/>
<rect x="1771.6" y="670.58" width="76.5" height="9.2" fill="#ab322b"/>
<rect x="1848.1" y="670.58" width="63.9" height="9.2" fill="#22781f"/>
<rect x="1821" y="681.8" width="47.3" height="9.2" fill="#ab322b"/>
<rect x="1868.3" y="681.8" width="43.7" height="9.2" fill="#22781f"/>
<rect x="1794.4" y="693.02" width="65.8" height="9.2" fill="#ab322b"/>
<rect x="1860.2" y="693.02" width="51.8" height="9.2" fill="#22781f"/>
<rect x="1827" y="704.24" width="43" height="9.2" fill="#ab322b"/>
<rect x="1870" y="704.24" width="42" height="9.2" fill="#22781f"/>
<rect x="1861.1" y="715.46" width="28" height="9.2" fill="#ab322b"/>
<rect x="1889.1" y="715.46" width="22.9" height="9.2" fill="#22781f"/>
<rect x="1855.6" y="726.68" width="24.2" height="9.2" fill="#ab322b"/>
<rect x="1879.8" y="726.68" width="32.2" height="9.2" fill="#22781f"/>
<rect x="1884.5" y="737.9" width="15.5" height="9.2" fill="#ab322b"/>
<rect x="1900" y="737.9" width="12" height="9.2" fill="#22781f"/>
<rect x="1883.3" y="749.12" width="11.3" height="9.2" fill="#ab322b"/>
<rect x="1894.6" y="749.12" width="17.4" height="9.2" fill="#22781f"/>
<rect x="1880.4" y="760.34" width="17.6" height="9.2" fill="#ab322b"/>
<rect x="1898" y="760.34" width="14" height="9.2" fill="#22781f"/>
<rect x="1896" y="771.56" width="9" height="9.2" fill="#ab322b"/>
<rect x="1905" y="771.56" width="7" height="9.2" fill="#22781f"/>
<rect x="1903.2" y="782.78" width="8.8" height="9.2" fill="#ec473c"/>
<line x1="8" x2="1860" y1="428.05" y2="428.05" stroke="#4a68c4" stroke-width="1.3"/>
<rect x="1859.6" y="423.45" width="12.4" height="9.2" fill="#5f7fd8"/>
<text x="1865.8" y="430.65" class="tag">VAH</text>
<line x1="8" x2="1720" y1="663.67" y2="663.67" stroke="#c8a348" stroke-width="1.3"/>
<rect x="1719.7" y="659.07" width="12.1" height="9.2" fill="#d8b862"/>
<text x="1725.75" y="666.27" class="tag">POC</text>
<line x1="8" x2="1888" y1="787.09" y2="787.09" stroke="#a043ad" stroke-width="1.3"/>
<rect x="1887" y="782.49" width="11" height="9.2" fill="#c050c8"/>
<text x="1892.5" y="789.69" class="tag">VAL</text>
<circle cx="55" cy="870.7" r="7.9" fill="url(#gr)"/>
<path d="M55 866.8000000000001 l3.9 4 h-1.8 v4.6 h-4.2 v-4.6 h-1.8 z" fill="#f4472f"/>
<circle cx="230.24" cy="870.7" r="7.9" fill="url(#gg)"/>
<path d="M226.44 867.9000000000001 h7.6 l-3.8 6.4 z" fill="#27a31f"/>
<circle cx="405.98" cy="870.7" r="7.9" fill="url(#gg)"/>
<path d="M402.18 867.9000000000001 h7.6 l-3.8 6.4 z" fill="#27a31f"/>
<circle cx="698.88" cy="870.7" r="7.9" fill="url(#gg)"/>
<path d="M695.98 868.3000000000001 L701.37 870.37 A2.5 2.5 0 1 1 698.16 873.6400000000001 Z" fill="#27a31f" stroke="#27a31f" stroke-width="0.5" stroke-linejoin="round"/><circle cx="700.48" cy="872.7" r="0.95" fill="#1c4238"/>
<circle cx="874.62" cy="870.7" r="7.9" fill="url(#gr)"/>
<path d="M874.62 867.3000000000001 l3.7 6.4 h-7.4 z" fill="#f0453a"/>
<circle cx="933.2" cy="870.7" r="7.9" fill="url(#gg)"/>
<path d="M930.3 868.3000000000001 L935.69 870.37 A2.5 2.5 0 1 1 932.48 873.6400000000001 Z" fill="#27a31f" stroke="#27a31f" stroke-width="0.5" stroke-linejoin="round"/><circle cx="934.8" cy="872.7" r="0.95" fill="#1c4238"/>
<circle cx="1108.94" cy="870.7" r="7.9" fill="url(#gr)"/>
<path d="M1108.94 867.3000000000001 l3.7 6.4 h-7.4 z" fill="#f0453a"/>
<g stroke="#30364f" stroke-width="1.4"><line x1="8" x2="1912" y1="881.6" y2="881.6"/><line x1="8" x2="1912" y1="904.7" y2="904.7"/><line x1="960.5" x2="960.5" y1="882" y2="904"/></g>
<text x="483.5" y="897.3" text-anchor="middle" font-size="13" font-weight="bold" fill="#4677d8" font-family="'Liberation Sans', 'Noto Sans CJK SC', sans-serif">信号点</text>
<text x="1436" y="898" text-anchor="middle" font-size="13" fill="#9092a2" stroke="#9092a2" stroke-width="0.3" font-family="'Liberation Sans', sans-serif">Cum Delta</text>
<g font-size="12" fill="#4e5267" stroke="#4e5267" stroke-width="0.3" text-anchor="middle" font-family="'Liberation Sans', sans-serif">
<text x="111.08" y="918.9">09:10</text>
<text x="228.24" y="918.9">09:20</text>
<text x="345.4" y="918.9">09:30</text>
<text x="462.56" y="918.9">09:40</text>
<text x="579.72" y="918.9">09:50</text>
<text x="696.88" y="918.9">10:00</text>
<text x="814.04" y="918.9">10:10</text>
<text x="931.2" y="918.9">10:35</text>
<text x="1048.36" y="918.9">10:45</text>
<text x="1165.52" y="918.9">10:55</text>
<text x="1282.68" y="918.9">11:05</text>
<text x="1399.84" y="918.9">11:15</text>
<text x="1517" y="918.9">11:25</text>
</g>
<g fill="#5a5e74"><rect x="14" y="903.8" width="2.3" height="1.2"/><rect x="17.8" y="903.8" width="2.5" height="1.2"/><rect x="24.7" y="903.8" width="2.2" height="1.2"/><rect x="28" y="903.8" width="2.6" height="1.2"/><rect x="35.6" y="903.8" width="2.2" height="1.2"/><rect x="39" y="903.8" width="2.3" height="1.2"/></g>
</svg>
<div class="abs btn" style="top:110px;height:16px"><svg width="15" height="15" viewBox="0 0 15 15"><path d="M6 4.2 L9.6 8 L6 11.8" fill="none" stroke="#d0d2dc" stroke-width="1.1"/></svg></div>
<div class="abs btn" style="top:127px;font-size:10px;line-height:17.5px">?</div>
</body>
</html>
